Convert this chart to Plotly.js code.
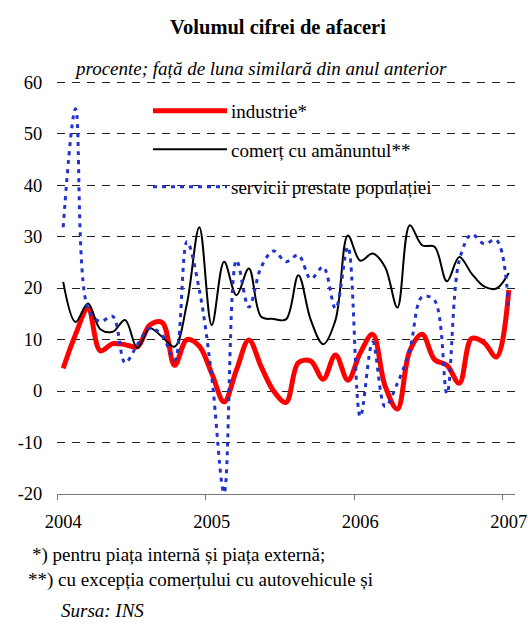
<!DOCTYPE html>
<html>
<head>
<meta charset="utf-8">
<script src="https://cdn.plot.ly/plotly-3.0.1.min.js"></script>
<style>
  html, body { margin: 0; padding: 0; background: #fff; }
  #chart { width: 528px; height: 624px; }
</style>
</head>
<body>
<div id="chart"></div>
<script>
// ---- data (monthly, Jan 2004 - Jan 2007) ----
const months = [
  '2004-01','2004-02','2004-03','2004-04','2004-05','2004-06','2004-07','2004-08','2004-09','2004-10','2004-11','2004-12',
  '2005-01','2005-02','2005-03','2005-04','2005-05','2005-06','2005-07','2005-08','2005-09','2005-10','2005-11','2005-12',
  '2006-01','2006-02','2006-03','2006-04','2006-05','2006-06','2006-07','2006-08','2006-09','2006-10','2006-11','2006-12',
  '2007-01'
];
const industrie = [
  4.4, 11.0, 16.0, 7.8, 9.2, 9.0, 8.6, 12.8, 13.3, 5.0, 10.0, 8.7,
  3.4, -2.1, 4.1, 9.9, 4.7, 0.0, -2.2, 5.5, 5.8, 2.3, 7.0, 2.1,
  7.4, 11.0, 1.0, -3.5, 7.8, 11.0, 6.1, 5.0, 1.5, 10.2, 9.4, 6.6,
  19.6
];
const comert = [
  21.2, 13.4, 17.0, 12.0, 11.5, 13.8, 8.3, 12.2, 10.5, 8.6, 17.0, 31.8,
  12.8, 25.1, 18.6, 23.8, 14.4, 14.0, 13.9, 22.5, 13.8, 9.1, 13.8, 30.2,
  25.3, 26.7, 24.1, 16.2, 32.2, 28.3, 28.0, 21.3, 26.0, 22.8, 20.3, 19.9,
  22.9
];
const servicii = [
  31.8, 54.8, 16.0, 13.5, 14.5, 5.5, 9.0, 12.2, 10.8, 6.0, 29.0, 19.6,
  2.8, -19.8, 25.4, 16.3, 24.1, 27.2, 25.1, 26.4, 21.8, 24.1, 16.0, 28.0,
  -5.0, 9.5, -3.0, 1.5, 8.0, 18.3, 17.6, -0.5, 25.4, 30.4, 28.6, 29.3,
  15.7
];
const seriesNames = ['industrie*', 'comerț cu amănuntul**', 'servicii prestate populației'];
const yearLabels = ['2004', '2005', '2006', '2007'];
const yTicks = [-20, -10, 0, 10, 20, 30, 40, 50, 60];

// ---- helpers ----
const FONT = 'Liberation Serif';
const L = 57, R = 515, T = 82, B = 494;          // plot area in pixels (60 -> T, -20 -> B)
const yTop = 60.2;                                // a hair above 60 so the top gridline is drawn
const Tm = T - (yTop - 60) * (B - T) / 80;        // margin top for the extended range
const px2x = px => (px - L) / (R - L);
const px2y = py => (B - py) / (B - Tm);

const xPos = months.map((m, i) => i + 0.5);      // month centres
const yearStart = yearLabels.map(y => months.indexOf(y + '-01'));
const labelVals = yearStart.map(i => i + 0.5);
const boundaryVals = yearStart.slice();

const colors = ['#ff0000', '#000000', '#2233cc'];
const lineStyles = [
  { color: colors[0], width: 5, shape: 'spline', smoothing: 1 },
  { color: colors[1], width: 2, shape: 'spline', smoothing: 1 },
  { color: colors[2], width: 3, shape: 'spline', smoothing: 1, dash: '4px,5px' }
];
const values = [industrie, comert, servicii];

const traces = values.map((v, k) => ({
  type: 'scatter', mode: 'lines', x: xPos, y: v, name: seriesNames[k],
  line: lineStyles[k], cliponaxis: false, showlegend: false,
  text: months, hovertemplate: '%{text}: %{y}<extra>' + seriesNames[k] + '</extra>'
}));

// manual legend (long sample lines like the original)
const legY = [110.7, 149.3, 186.7];
const shapes = legY.map((y, k) => ({
  type: 'line', xref: 'paper', yref: 'paper',
  x0: px2x(153), x1: px2x(227), y0: px2y(y), y1: px2y(y),
  line: { color: colors[k], width: lineStyles[k].width, dash: lineStyles[k].dash || 'solid' },
  layer: 'above'
}));
const annotations = legY.map((y, k) => ({
  xref: 'paper', yref: 'paper', x: px2x(229), y: px2y(y + 1),
  xanchor: 'left', yanchor: 'middle', showarrow: false,
  text: seriesNames[k], font: { family: FONT, size: 19, color: '#000' }
}));

annotations.push(
  { xref: 'paper', yref: 'paper', x: px2x(72), y: px2y(68), xanchor: 'left', yanchor: 'middle',
    showarrow: false, text: '<i>procente; față de luna similară din anul anterior</i>',
    font: { family: FONT, size: 19, color: '#000' } },
  { xref: 'paper', yref: 'paper', x: px2x(30), y: px2y(555), xanchor: 'left', yanchor: 'middle',
    showarrow: false, text: '*) pentru piața internă și piața externă;',
    font: { family: FONT, size: 19, color: '#000' } },
  { xref: 'paper', yref: 'paper', x: px2x(26), y: px2y(580), xanchor: 'left', yanchor: 'middle',
    showarrow: false, text: '**) cu excepția comerțului cu autovehicule și',
    font: { family: FONT, size: 19, color: '#000' } },
  { xref: 'paper', yref: 'paper', x: px2x(59), y: px2y(611), xanchor: 'left', yanchor: 'middle',
    showarrow: false, text: '<i>Sursa: INS</i>',
    font: { family: FONT, size: 19, color: '#000' } }
);

const layout = {
  width: 528, height: 624,
  margin: { l: L, r: 528 - R, t: Tm, b: 624 - B, pad: 0 },
  paper_bgcolor: '#ffffff', plot_bgcolor: '#ffffff',
  font: { family: FONT, color: '#000' },
  showlegend: false,
  title: {
    text: '<b>Volumul cifrei de afaceri</b>',
    x: 278 / 528, xref: 'container', xanchor: 'center',
    y: 1 - 27 / 624, yref: 'container', yanchor: 'middle',
    font: { family: FONT, size: 20.5, color: '#000' }
  },
  xaxis: {
    range: [0, months.length],
    tickmode: 'array', tickvals: labelVals, ticktext: yearLabels,
    ticks: 'outside', ticklen: 11, tickcolor: 'rgba(0,0,0,0)',
    minor: { tickmode: 'array', tickvals: boundaryVals, ticks: 'outside', ticklen: 5,
             tickcolor: '#777777', tickwidth: 1, showgrid: false },
    showgrid: false, zeroline: false,
    showline: true, linecolor: '#777777', linewidth: 1,
    tickfont: { family: FONT, size: 18.5, color: '#000' },
    fixedrange: true
  },
  yaxis: {
    range: [-20, yTop],
    tickmode: 'array', tickvals: yTicks, ticktext: yTicks.map(String),
    ticks: 'outside', ticklen: 10, tickcolor: 'rgba(0,0,0,0)',
    showgrid: true, gridcolor: '#222222', gridwidth: 1, griddash: '8px,7px',
    zeroline: false, showline: false,
    tickfont: { family: FONT, size: 18.5, color: '#000' },
    fixedrange: true
  },
  shapes: shapes,
  annotations: annotations
};

Plotly.newPlot('chart', traces, layout, { displayModeBar: false, staticPlot: true });
</script>
</body>
</html>
